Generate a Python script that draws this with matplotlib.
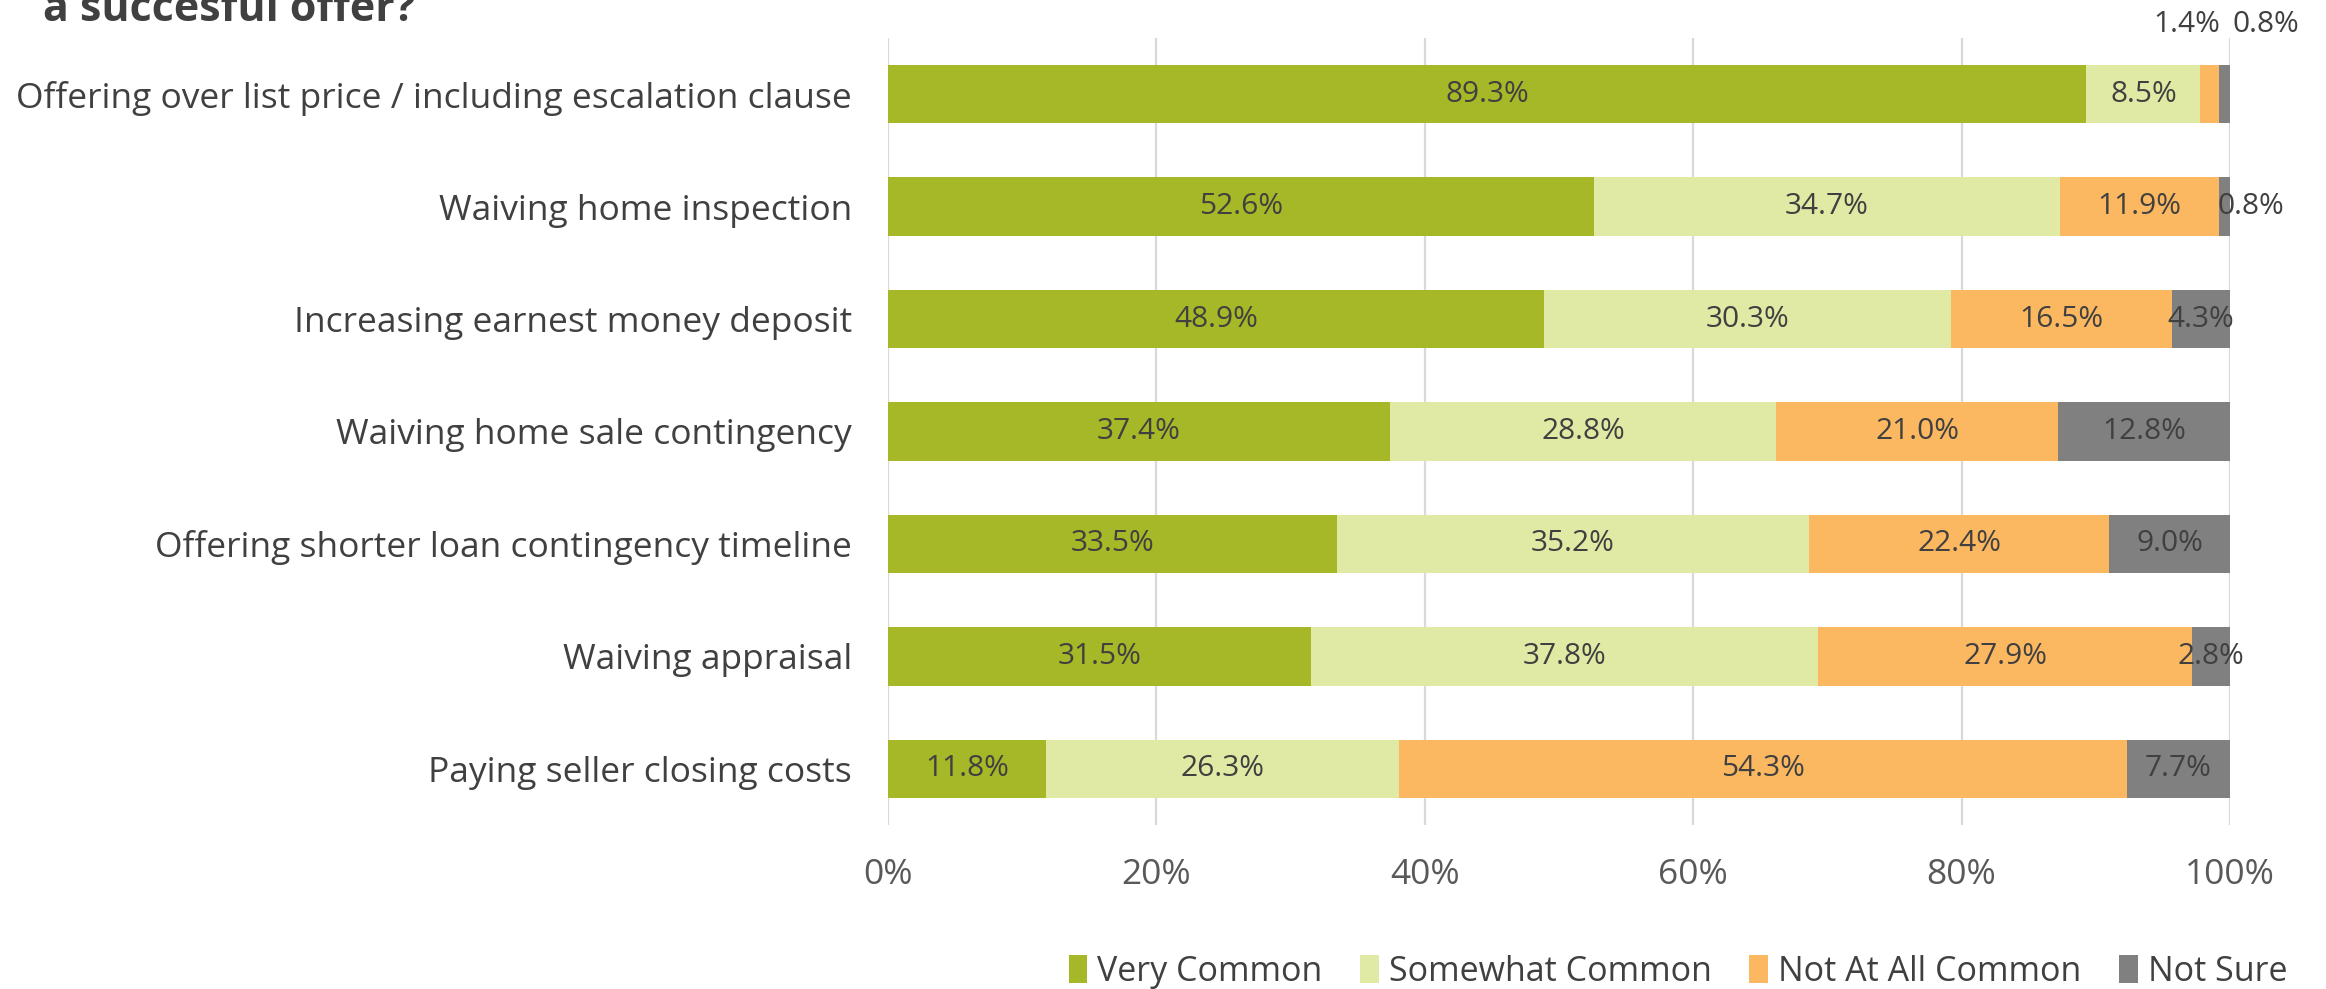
import numpy as np
import matplotlib.pyplot as plt

plt.rcParams['font.family'] = ['Open Sans', 'DejaVu Sans']

# Data
categories = [
    "Offering over list price / including escalation clause",
    "Waiving home inspection",
    "Increasing earnest money deposit",
    "Waiving home sale contingency",
    "Offering shorter loan contingency timeline",
    "Waiving appraisal",
    "Paying seller closing costs",
]
very_common = [89.3, 52.6, 48.9, 37.4, 33.5, 31.5, 11.8]
somewhat_common = [8.5, 34.7, 30.3, 28.8, 35.2, 37.8, 26.3]
not_at_all_common = [1.4, 11.9, 16.5, 21.0, 22.4, 27.9, 54.3]
not_sure = [0.8, 0.8, 4.3, 12.8, 9.0, 2.8, 7.7]

series_names = ["Very Common", "Somewhat Common", "Not At All Common", "Not Sure"]
colors = ["#A6B727", "#E0EAA4", "#FCB860", "#808080"]

# manual label offsets (pixels) for crowded segments: (row, series) -> (dx, dy)
label_offsets = {(0, 2): (-23, 70), (0, 3): (41, 70), (1, 3): (26, 0)}

data = np.array([very_common, somewhat_common, not_at_all_common, not_sure])
totals = data.sum(axis=0)
shares = data / totals * 100

fig = plt.figure(figsize=(23.26, 9.89), dpi=100)
ax = fig.add_axes([888 / 2326, 1 - 825 / 989, (2230 - 888) / 2326, (825 - 38) / 989])

y = np.arange(len(categories))
left = np.zeros(len(categories))
for i, name in enumerate(series_names):
    ax.barh(y, shares[i], left=left, height=0.52, color=colors[i],
            label=name, zorder=3)
    for r in range(len(categories)):
        dx, dy = label_offsets.get((r, i), (0, 0))
        ax.annotate(f"{data[i][r]:.1f}%",
                    (left[r] + shares[i][r] / 2, y[r]),
                    xytext=(dx * 0.72, dy * 0.72), textcoords="offset points",
                    ha="center", va="center", fontsize=21.5, color="#404040",
                    zorder=4, annotation_clip=False)
    left += shares[i]

ax.set_xlim(0, 100)
ax.set_ylim(len(categories) - 0.5, -0.5)
ax.set_xticks(np.arange(0, 101, 20))
ax.set_xticklabels([f"{v}%" for v in range(0, 101, 20)])
ax.set_yticks(y)
ax.set_yticklabels(categories)
ax.tick_params(axis="y", length=0, pad=26, labelsize=25.5, labelcolor="#404040")
ax.tick_params(axis="x", length=0, pad=24, labelsize=25.5, labelcolor="#595959")
ax.grid(axis="x", color="#D9D9D9", linewidth=1.6, zorder=0)
for s in ax.spines.values():
    s.set_visible(False)

fig.text(43 / 2326, 1 - 21 / 989, "a succesful offer?", fontsize=31,
         fontweight="bold", color="#404040", ha="left", va="baseline")

fig.legend(loc="center", bbox_to_anchor=(1678 / 2326, 1 - 972 / 989), ncol=4,
           frameon=False, fontsize=24.5, handlelength=0.55, handleheight=0.9,
           handletextpad=0.3, columnspacing=1.1, labelcolor="#404040")

fig.savefig("out.png", dpi=100)
